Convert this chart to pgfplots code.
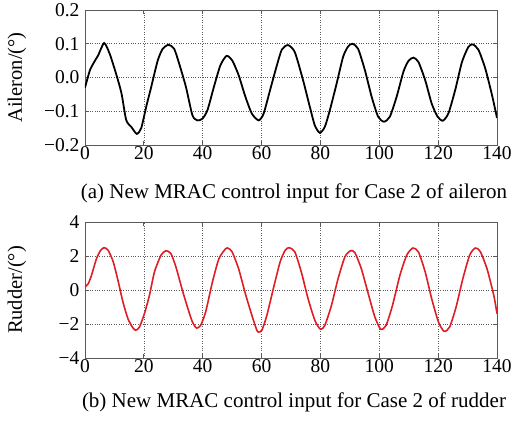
\documentclass[border=0pt]{standalone}
\usepackage{fontspec}
\setmainfont{Liberation Serif}
\usepackage{pgfplots}
\pgfplotsset{compat=1.18}
\definecolor{curveRed}{RGB}{222,30,38}
\definecolor{gridGray}{RGB}{90,90,90}

\pgfplotsset{
  panel/.style={
    scale only axis,
    width=412pt,
    xmin=0, xmax=140,
    xtick={0,20,...,140},
    xticklabels={0,20,40,60,80,100,120,140},
    grid=major,
    grid style={dotted, gridGray, line width=0.7pt},
    axis line style={gridGray, line width=0.8pt},
    tick style={gridGray, line width=0.8pt},
    tick align=inside,
    major tick length=4pt,
    ticklabel style={font=\fontsize{19.5}{22}\selectfont},
    xticklabel style={yshift=2pt},
    yticklabel style={xshift=-2pt},
    ylabel style={at={(axis description cs:-0.165,0.5)}, anchor=center,
      font=\fontsize{20.5}{23}\selectfont},
  }
}

\begin{document}
\begin{tikzpicture}
\useasboundingbox (0,0) rectangle (511pt,-422pt);

% (a) aileron
\begin{axis}[panel,
    at={(85pt,-145pt)}, anchor=south west,
    height=135pt,
    ymin=-0.2, ymax=0.2,
    ytick={-0.2,-0.1,0,0.1,0.2},
    yticklabels={−0.2,−0.1,0.0,0.1,0.2},
    ylabel={Aileron/(°)}]
  \addplot[black, line width=1.8pt, smooth, tension=0.4] coordinates {
    (0,-0.03) (1.7,0.022) (3.4,0.05) (4.5,0.066) (6.5,0.102) (8.4,0.07)
    (10.7,0.007) (12.4,-0.047) (14,-0.126) (15.7,-0.146) (17.6,-0.167)
    (19.1,-0.15) (20.8,-0.087) (22.5,-0.028) (24.7,0.05) (26.4,0.085)
    (28.4,0.097) (30.3,0.085) (32,0.041) (34.3,-0.028) (36.5,-0.112)
    (38.2,-0.127) (39.9,-0.122) (41.6,-0.097) (43.8,-0.028) (46,0.036)
    (48.1,0.064) (50,0.051) (52.2,0.007) (54.5,-0.057) (56.7,-0.107)
    (59,-0.127) (60.7,-0.107) (62.9,-0.037) (65.2,0.036) (66.9,0.083)
    (69,0.096) (71.3,0.075) (74.1,-0.008) (76.4,-0.087) (78.1,-0.142)
    (79.8,-0.164) (81.5,-0.146) (83.2,-0.097) (85.5,-0.018) (87.7,0.061)
    (89.4,0.092) (90.9,0.1) (92.8,0.085) (95.1,0.022) (97.4,-0.057)
    (99.6,-0.116) (101.6,-0.131) (103.6,-0.116) (105.9,-0.057) (108.2,0.017)
    (109.9,0.049) (111.6,0.059) (113.3,0.046) (115.6,-0.008) (117.8,-0.077)
    (119.8,-0.116) (121.6,-0.128) (123.5,-0.106) (125.8,-0.037) (128.1,0.046)
    (130.3,0.091) (131.8,0.098) (133.7,0.082) (136,0.027) (138.3,-0.052)
    (140,-0.12)
  };
\end{axis}

% (b) rudder
\begin{axis}[panel,
    at={(85pt,-358pt)}, anchor=south west,
    height=136pt,
    ymin=-4, ymax=4,
    ytick={-4,-2,0,2,4},
    yticklabels={−4,−2,0,2,4},
    ylabel={Rudder/(°)}]
  \addplot[curveRed, line width=1.6pt, smooth, tension=0.4] coordinates {
    (0,0.18) (1.1,0.37) (2.2,0.86) (3.9,1.84) (5.3,2.33) (6.5,2.49) (7.9,2.33)
    (9.6,1.65) (11.2,0.57) (12.9,-0.71) (14.6,-1.69) (16.1,-2.18) (17.2,-2.37)
    (18.5,-2.18) (20.2,-1.39) (21.9,-0.31) (23.6,1.06) (25.8,2.04) (27.5,2.31)
    (29.2,2.14) (30.9,1.35) (33.1,-0.02) (34.8,-1.0) (36.5,-1.88) (37.9,-2.24)
    (39.3,-2.08) (41,-1.29) (43.3,0.47) (45.5,1.84) (47.8,2.43) (48.7,2.45)
    (50,2.24) (52.2,1.25) (54.5,-0.22) (56.7,-1.49) (58.4,-2.37) (59,-2.47)
    (60.1,-2.37) (61.8,-1.49) (64,0.08) (66.3,1.65) (68,2.33) (69.3,2.49)
    (71.3,2.24) (73.5,1.06) (75.8,-0.51) (78.1,-1.78) (80,-2.31) (81.5,-2.08)
    (83.75,-0.9) (86,0.67) (88.3,1.94) (90.2,2.31) (91.7,2.2) (93.9,1.25)
    (96.25,-0.22) (98.5,-1.59) (100.5,-2.31) (102.3,-2.08) (104.5,-0.9)
    (107,0.86) (109.3,2.04) (111.4,2.47) (113.3,2.24) (115.6,1.06)
    (117.8,-0.51) (120.1,-1.88) (122.05,-2.43) (123.9,-2.18) (126.1,-1.0)
    (128.4,0.67) (130.7,2.04) (132.6,2.47) (134.3,2.27) (136.6,1.25)
    (138.9,-0.31) (140,-1.39)
  };
\end{axis}

\node[font=\fontsize{21}{23}\selectfont] at (294pt,-193pt)
  {(a) New MRAC control input for Case 2 of aileron};
\node[font=\fontsize{21}{23}\selectfont] at (294pt,-402pt)
  {(b) New MRAC control input for Case 2 of rudder};
\end{tikzpicture}
\end{document}
